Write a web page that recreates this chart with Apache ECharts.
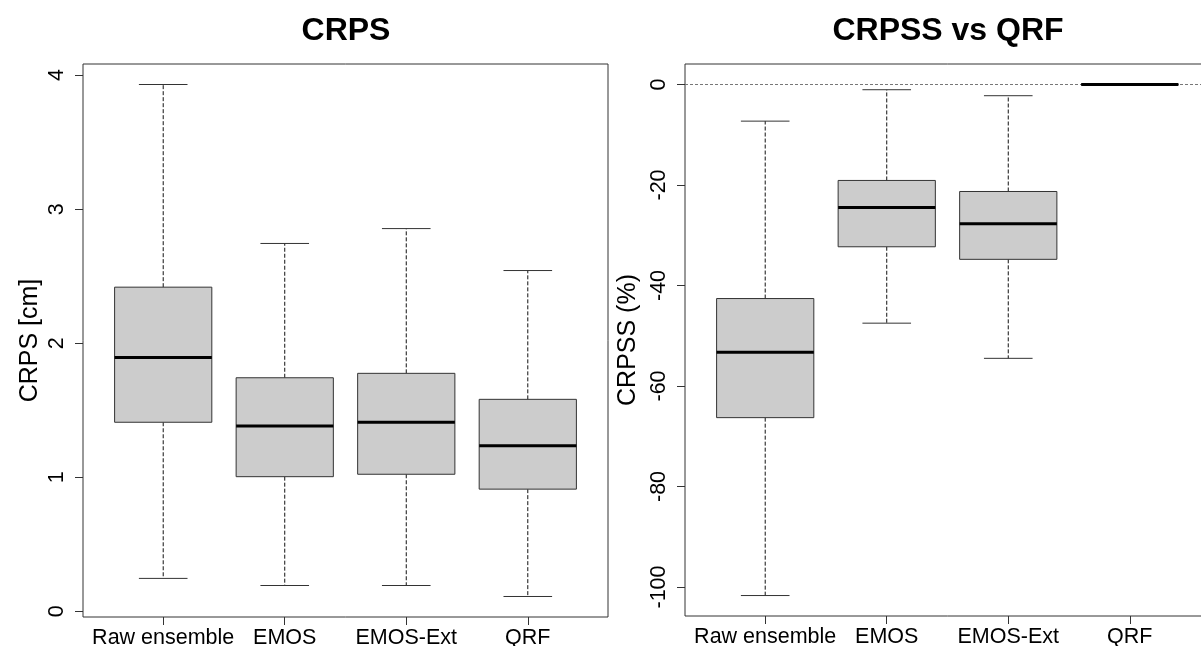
<!DOCTYPE html>
<html>
<head>
<meta charset="utf-8">
<script src="https://cdn.jsdelivr.net/npm/echarts@6/dist/echarts.min.js"></script>
<style>
html,body{margin:0;padding:0;background:#fff;width:1201px;height:646px;overflow:hidden;}
#chart{width:1220px;height:646px;}
</style>
</head>
<body>
<div id="chart"></div>
<script>
// ---- data ----
const categories = ['Raw ensemble', 'EMOS', 'EMOS-Ext', 'QRF'];
// five-number summaries: [lower whisker, Q1, median, Q3, upper whisker]
const crpsStats = [
  [0.245, 1.410, 1.894, 2.418, 3.930],
  [0.192, 1.004, 1.382, 1.742, 2.744],
  [0.192, 1.022, 1.410, 1.775, 2.855],
  [0.110, 0.911, 1.235, 1.581, 2.542]
];
const crpssStats = [
  [-101.7, -66.3, -53.3, -42.6, -7.3],
  [-47.5, -32.3, -24.5, -19.1, -1.05],
  [-54.5, -34.8, -27.7, -21.3, -2.24],
  [0, 0, 0, 0, 0]
];
const crpsTicks = [0, 1, 2, 3, 4];
const crpssTicks = [-100, -80, -60, -40, -20, 0];
const categoryPositions = [1, 2, 3, 4];
const panelTitles = ['CRPS', 'CRPSS vs QRF'];
const axisTitles = ['CRPS [cm]', 'CRPSS (%)'];
const referenceLevel = 0;

// ---- chart ----
const FONT = "'Liberation Sans', Arial, Helvetica, sans-serif";

function rows(stats) {
  return stats.map((s, i) => [categoryPositions[i]].concat(s));
}

function renderBox(params, api) {
  const x = api.value(0);
  const pLo = api.coord([x, api.value(1)]);
  const pQ1 = api.coord([x, api.value(2)]);
  const pMed = api.coord([x, api.value(3)]);
  const pQ3 = api.coord([x, api.value(4)]);
  const pHi = api.coord([x, api.value(5)]);
  const bw = api.size([0.8, 0])[0];
  const cw = api.size([0.4, 0])[0];
  const cx = pMed[0];
  const dash = { stroke: '#111', lineWidth: 1, lineDash: [4, 2] };
  const solid = { stroke: '#333', lineWidth: 1 };
  const children = [];
  if (pHi[1] < pQ3[1]) {
    children.push({ type: 'line', shape: { x1: cx, y1: pQ3[1], x2: cx, y2: pHi[1] }, style: dash });
  }
  if (pLo[1] > pQ1[1]) {
    children.push({ type: 'line', shape: { x1: cx, y1: pQ1[1], x2: cx, y2: pLo[1] }, style: dash });
  }
  children.push(
    { type: 'line', shape: { x1: cx - cw / 2, y1: pHi[1], x2: cx + cw / 2, y2: pHi[1] }, style: solid },
    { type: 'line', shape: { x1: cx - cw / 2, y1: pLo[1], x2: cx + cw / 2, y2: pLo[1] }, style: solid },
    { type: 'rect', shape: { x: cx - bw / 2, y: pQ3[1], width: bw, height: pQ1[1] - pQ3[1] },
      style: { fill: '#cccccc', stroke: '#333', lineWidth: 1 } },
    { type: 'line', shape: { x1: cx - bw / 2, y1: pMed[1], x2: cx + bw / 2, y2: pMed[1] },
      style: { stroke: '#000', lineWidth: 3 } }
  );
  return { type: 'group', children };
}

function xAxisFor(gridIndex) {
  return {
    type: 'value', gridIndex, min: 0.34, max: 4.66, position: 'bottom',
    axisLine: { show: false, onZero: false },
    splitLine: { show: false },
    axisTick: { show: true, length: 8, customValues: categoryPositions, lineStyle: { color: '#333' } },
    axisLabel: { show: true, customValues: categoryPositions, margin: 10,
      formatter: v => categories[Math.round(v) - 1] || '',
      fontSize: 21.5, color: '#000', fontFamily: FONT }
  };
}

function yAxisFor(gridIndex, min, max, ticks, name, gap) {
  return {
    type: 'value', gridIndex, min, max, position: 'left',
    name, nameLocation: 'middle', nameGap: gap, nameRotate: 90,
    nameTextStyle: { fontSize: 25, color: '#000', fontFamily: FONT },
    axisLine: { show: false, onZero: false },
    splitLine: { show: false },
    axisTick: { show: true, length: 8, customValues: ticks, lineStyle: { color: '#333' } },
    axisLabel: { show: true, customValues: ticks, rotate: 90, margin: 15,
      fontSize: 21.5, color: '#000', fontFamily: FONT }
  };
}

const chart = echarts.init(document.getElementById('chart'), null, { renderer: 'canvas' });
chart.setOption({
  animation: false,
  backgroundColor: '#fff',
  title: [
    { text: panelTitles[0], left: 341, top: 10, textAlign: 'center',
      textStyle: { fontSize: 32, fontWeight: 'bold', color: '#000', fontFamily: FONT } },
    { text: panelTitles[1], left: 943, top: 10, textAlign: 'center',
      textStyle: { fontSize: 32, fontWeight: 'bold', color: '#000', fontFamily: FONT } }
  ],
  grid: [
    { left: 83, top: 64, width: 525, height: 553, show: true, borderColor: '#333', borderWidth: 1,
      backgroundColor: 'transparent', containLabel: false, outerBoundsMode: 'none' },
    { left: 685, top: 64, width: 525, height: 552, show: true, borderColor: '#333', borderWidth: 1,
      backgroundColor: 'transparent', containLabel: false, outerBoundsMode: 'none' }
  ],
  xAxis: [xAxisFor(0), xAxisFor(1)],
  yAxis: [
    yAxisFor(0, -0.043, 4.083, crpsTicks, axisTitles[0], 40),
    yAxisFor(1, -105.77, 4.07, crpssTicks, axisTitles[1], 44)
  ],
  series: [
    { type: 'custom', xAxisIndex: 0, yAxisIndex: 0, renderItem: renderBox,
      encode: { x: 0, y: [1, 2, 3, 4, 5] }, data: rows(crpsStats), silent: true },
    { type: 'line', xAxisIndex: 1, yAxisIndex: 1, data: [], silent: true,
      markLine: { silent: true, symbol: 'none', label: { show: false },
        lineStyle: { color: '#777', type: [3, 2], width: 1 },
        data: [{ yAxis: referenceLevel }] } },
    { type: 'custom', xAxisIndex: 1, yAxisIndex: 1, renderItem: renderBox,
      encode: { x: 0, y: [1, 2, 3, 4, 5] }, data: rows(crpssStats), silent: true, z: 5 }
  ]
});
</script>
</body>
</html>
